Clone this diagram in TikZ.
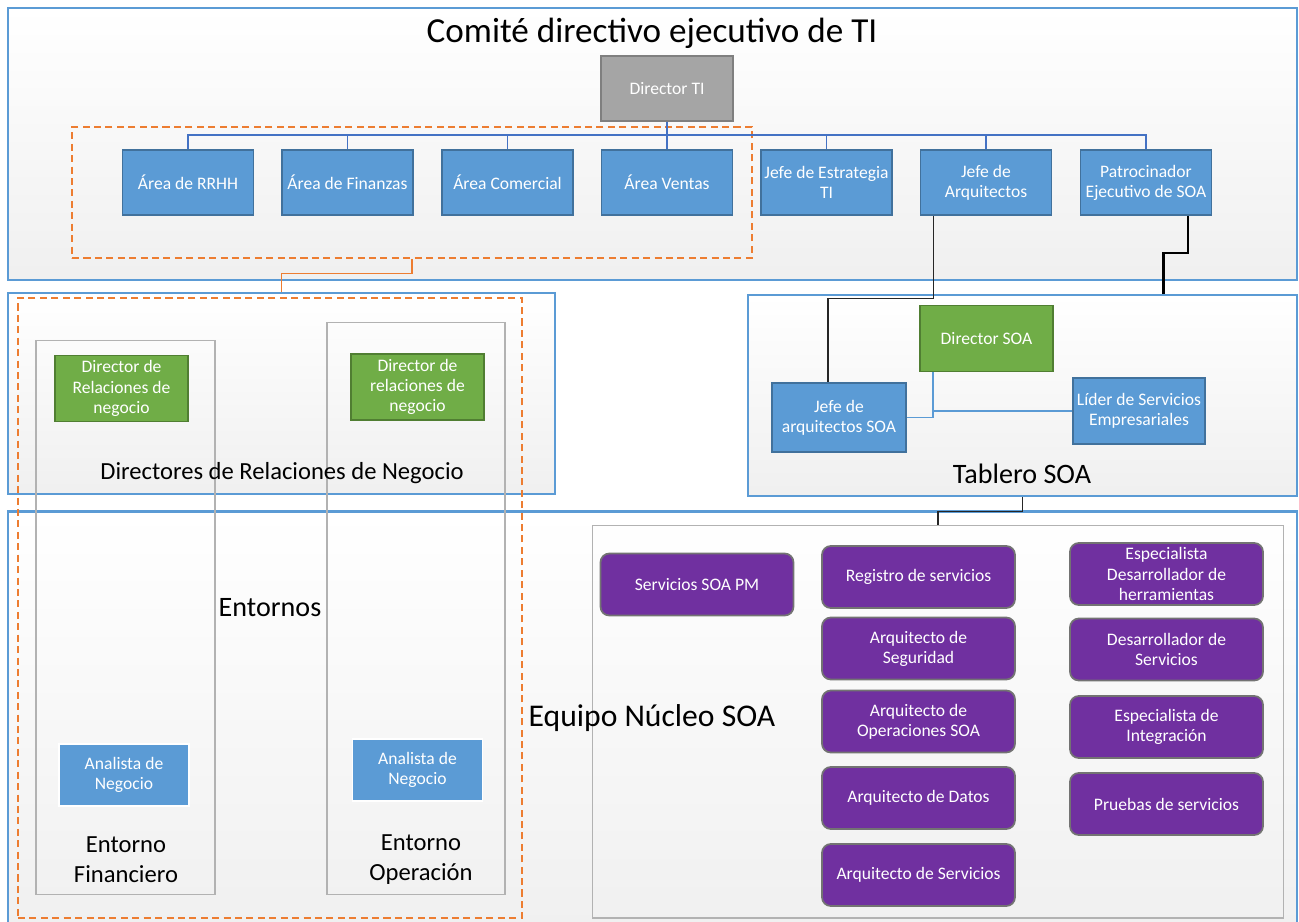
\documentclass[tikz,border=0pt]{standalone}
\usepackage{fontspec}
\setmainfont{Carlito}
\usetikzlibrary{calc}

\definecolor{soablue}{HTML}{5B9BD5}
\definecolor{soablueline}{HTML}{41719C}
\definecolor{soagreen}{HTML}{70AD47}
\definecolor{soagreenline}{HTML}{507E32}
\definecolor{soagray}{HTML}{A5A5A5}
\definecolor{soagrayline}{HTML}{7F7F7F}
\definecolor{soapurple}{HTML}{7030A0}
\definecolor{soaorange}{HTML}{ED7D31}
\definecolor{busblue}{HTML}{4472C4}

\tikzset{
  cont/.style={draw=soablue, line width=1.3pt, top color=white, bottom color=black!6},
  envbox/.style={draw=black!30, line width=0.6pt},
  grpdash/.style={draw=soaorange, line width=1.2pt, dash pattern=on 4pt off 2.5pt},
  role/.style={align=center, text=white, font=\fontsize{10}{11.5}\selectfont, inner sep=1pt},
  bluebox/.style={role, fill=soablue, draw=soablueline, line width=1pt, minimum width=2.62cm, minimum height=1.3cm},
  greenbox/.style={role, fill=soagreen, draw=soagreenline, line width=1pt, minimum width=2.66cm, minimum height=1.32cm},
  graybox/.style={role, fill=soagray, draw=soagrayline, line width=1pt, minimum width=2.64cm, minimum height=1.3cm},
  anbox/.style={role, fill=soablue, draw=white, line width=0.8pt, minimum width=2.6cm, minimum height=1.24cm},
  purplebox/.style={role, fill=soapurple, draw=black!55, line width=1pt, rounded corners=5pt, minimum width=3.86cm, minimum height=1.24cm},
  lbl/.style={align=center, inner sep=1pt},
  bus/.style={draw=busblue, line width=0.9pt},
  link/.style={draw=black!85, line width=0.6pt},
}

\begin{document}
\begin{tikzpicture}[x=0.02cm, y=-0.02cm]
\useasboundingbox (0,0) rectangle (1299,921);

\node[cont, minimum width=25.78cm, minimum height=5.44cm] (comite) at (652.5,144) {};
\node[cont, minimum width=10.94cm, minimum height=4.02cm] (drn) at (281.5,393.5) {};
\node[cont, minimum width=10.98cm, minimum height=4.02cm] (tablero) at (1022.5,395.5) {};
\node[cont, minimum width=25.78cm, minimum height=8.5cm] (equipo) at (652.5,724) {};
\node[envbox, minimum width=13.84cm, minimum height=7.86cm] (nucleo) at (938,721.5) {};

\node[envbox, minimum width=3.58cm, minimum height=11.1cm] (envfin) at (125.5,617.5) {};
\node[envbox, minimum width=3.56cm, minimum height=11.46cm] (envop) at (416,608.5) {};

\node[grpdash, minimum width=13.6cm, minimum height=2.62cm] (grparea) at (412,192.5) {};
\node[grpdash, minimum width=10.08cm, minimum height=12.4cm] (grpenv) at (270,608) {};

\node[graybox] (dirti) at (667,88.5) {Director TI};
\node[bluebox] (rrhh) at (188,182.5) {Área de RRHH};
\node[bluebox] (finanzas) at (347.5,182.5) {Área de Finanzas};
\node[bluebox] (comercial) at (507.5,182.5) {Área Comercial};
\node[bluebox] (ventas) at (667,182.5) {Área Ventas};
\node[bluebox] (estrategia) at (826.5,182.5) {Jefe de Estrategia\\TI};
\node[bluebox] (jarq) at (986,182.5) {Jefe de\\Arquitectos};
\node[bluebox] (patroc) at (1146,182.5) {Patrocinador\\Ejecutivo de SOA};

\foreach \n in {rrhh,finanzas,comercial,ventas,estrategia,jarq,patroc}
  \draw[bus] (dirti.south) -- ++(0,13) -| (\n.north);

\draw[draw=soaorange, line width=0.6pt] (grparea.south) -- ++(0,14) -| (drn.north);

\node[greenbox] (dsoa) at (986.5,338.5) {Director SOA};
\node[bluebox, minimum width=2.68cm, minimum height=1.38cm] (jsoa) at (839,417.5) {Jefe de\\arquitectos SOA};
\node[bluebox, minimum width=2.64cm, minimum height=1.32cm] (lider) at (1139,411) {Líder de Servicios\\Empresariales};

\draw[link] ($(jarq.south west)+(14,0)$) -- ++(0,83) -| ($(jsoa.north)+(-11,0)$);
\draw[draw=black, line width=1.3pt] ($(patroc.south)+(42,0)$) -- ++(0,37) -| ($(tablero.north)+(141,0)$);
\draw[bus, draw=soablue] ($(dsoa.south west)+(14,0)$) |- (jsoa.east);
\draw[bus, draw=soablue] ($(dsoa.south west)+(14,0)$) |- (lider.west);
\draw[link] (tablero.south) -- ++(0,14) -| (nucleo.north);

\node[greenbox] (drn1) at (121.5,388.5) {Director de\\Relaciones de\\negocio};
\node[greenbox] (drn2) at (417.5,387) {Director de\\relaciones de\\negocio};
\node[anbox] (anfin) at (124,775) {Analista de\\Negocio};
\node[anbox] (anop) at (417.5,770) {Analista de\\Negocio};

\node[purplebox] (pm) at (697,584.5) {Servicios SOA PM};
\node[purplebox] (registro) at (918.5,577) {Registro de servicios};
\node[purplebox] (seguridad) at (918.5,648.5) {Arquitecto de\\Seguridad};
\node[purplebox] (operaciones) at (918.5,721.5) {Arquitecto de\\Operaciones SOA};
\node[purplebox] (datos) at (918.5,798) {Arquitecto de Datos};
\node[purplebox] (servicios) at (918.5,875) {Arquitecto de Servicios};
\node[purplebox] (herram) at (1166.5,574) {Especialista\\Desarrollador de\\herramientas};
\node[purplebox] (desarr) at (1166.5,649.5) {Desarrollador de\\Servicios};
\node[purplebox] (integr) at (1166.5,727) {Especialista de\\Integración};
\node[purplebox] (pruebas) at (1166.5,804) {Pruebas de servicios};

\node[lbl, font=\fontsize{20}{24}\selectfont] (tcomite) at (652,33) {Comité directivo ejecutivo de TI};
\node[lbl, font=\fontsize{14}{17}\selectfont] (tdrn) at (282,473) {Directores de Relaciones de Negocio};
\node[lbl, font=\fontsize{16}{19}\selectfont] (ttablero) at (1022,474) {Tablero SOA};
\node[lbl, font=\fontsize{16}{19}\selectfont] (tentornos) at (270,608) {Entornos};
\node[lbl, font=\fontsize{18}{22}\selectfont] (tequipo) at (652,718) {Equipo Núcleo SOA};
\node[lbl, font=\fontsize{14}{17}\selectfont] (tenvfin) at (126,860) {Entorno\\Financiero};
\node[lbl, font=\fontsize{14}{17}\selectfont] (tenvop) at (421,860) {Entorno\\Operación};
\end{tikzpicture}
\end{document}
